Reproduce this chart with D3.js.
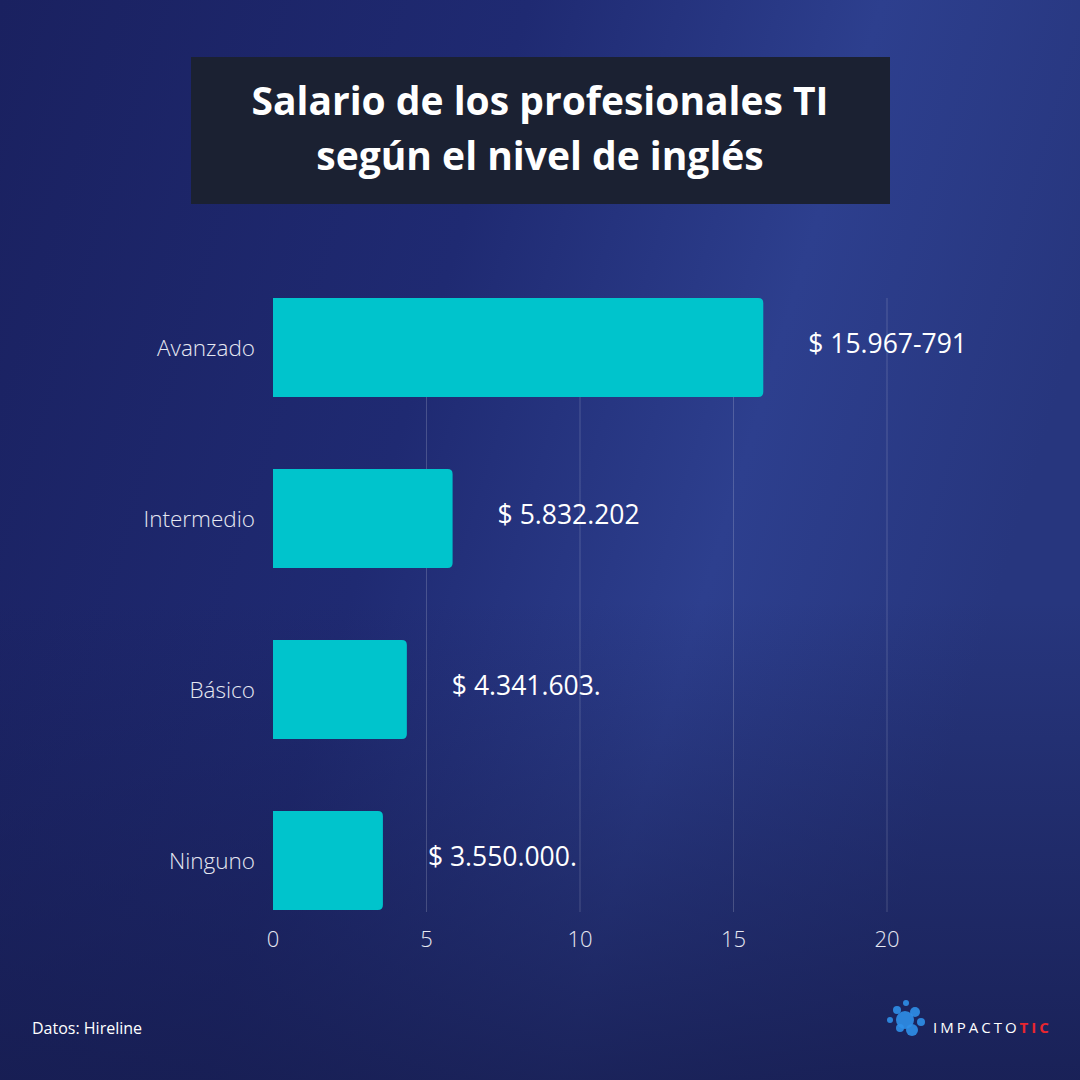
<!DOCTYPE html>
<html><head><meta charset="utf-8">
<script src="https://cdn.jsdelivr.net/npm/d3@7"></script>
<style>body{margin:0;background:#1e2766}</style>
</head><body>
<script>
const categories = ["Avanzado","Intermedio","Básico","Ninguno"];
const values = [15.97, 5.85, 4.36, 3.58];
const valueLabels = ["$ 15.967-791","$ 5.832.202","$ 4.341.603.","$ 3.550.000."];
const ticks = [0,5,10,15,20];

const W=1080,H=1080;
const svg=d3.select("body").append("svg").attr("width",W).attr("height",H)
  .style("font-family","'Open Sans', sans-serif");
const defs=svg.append("defs");
const g1=defs.append("linearGradient").attr("id","bg").attr("x1","0").attr("y1","0").attr("x2","1").attr("y2","0.3");
g1.append("stop").attr("offset","0").attr("stop-color","#1a2160");
g1.append("stop").attr("offset","0.45").attr("stop-color","#1f2a72");
g1.append("stop").attr("offset","0.75").attr("stop-color","#2d3f8e");
g1.append("stop").attr("offset","1").attr("stop-color","#27367e");
svg.append("rect").attr("width",W).attr("height",H).attr("fill","url(#bg)");
const g2=defs.append("linearGradient").attr("id","bot").attr("x1","0").attr("y1","0").attr("x2","0").attr("y2","1");
g2.append("stop").attr("offset","0").attr("stop-color","#161c4e").attr("stop-opacity",0);
g2.append("stop").attr("offset","1").attr("stop-color","#161c4e").attr("stop-opacity",0.8);
svg.append("rect").attr("y",600).attr("width",W).attr("height",480).attr("fill","url(#bot)");

// title
svg.append("rect").attr("x",191).attr("y",57).attr("width",699).attr("height",147).attr("fill","#1b2132");
svg.append("text").attr("x",540).attr("y",115).attr("text-anchor","middle").attr("fill","#fff")
  .attr("font-size",39).attr("font-weight",700).text("Salario de los profesionales TI");
svg.append("text").attr("x",540).attr("y",170).attr("text-anchor","middle").attr("fill","#fff")
  .attr("font-size",39).attr("font-weight",700).text("según el nivel de inglés");

const x=d3.scaleLinear().domain([0,20]).range([273,887]);
const y=d3.scaleBand().domain(categories).range([262,946]).paddingInner(0.42).paddingOuter(0.21);

svg.append("g").selectAll("line").data(ticks.slice(1)).join("line")
  .attr("x1",d=>x(d)).attr("x2",d=>x(d)).attr("y1",298).attr("y2",912)
  .attr("stroke","#ffffff").attr("stroke-opacity",0.18);

const r=5;
svg.append("g").selectAll("path").data(values).join("path")
  .attr("d",(d,i)=>{const x0=x(0),x1=x(d),y0=y(categories[i]),h=y.bandwidth();
    return `M${x0},${y0}H${x1-r}Q${x1},${y0} ${x1},${y0+r}V${y0+h-r}Q${x1},${y0+h} ${x1-r},${y0+h}H${x0}Z`;})
  .attr("fill","#00c4cc");

svg.append("g").selectAll("text").data(categories).join("text")
  .attr("x",255).attr("y",d=>y(d)+y.bandwidth()/2+8).attr("text-anchor","end")
  .attr("fill","#e6e8f2").attr("font-size",22.5).attr("font-weight",300).text(d=>d);

svg.append("g").selectAll("text").data(values).join("text")
  .attr("x",d=>x(d)+45).attr("y",(d,i)=>y(categories[i])+y.bandwidth()/2+5)
  .attr("fill","#fff").attr("font-size",26.5).text((d,i)=>valueLabels[i]);

svg.append("g").selectAll("text").data(ticks).join("text")
  .attr("x",d=>x(d)).attr("y",947).attr("text-anchor","middle")
  .attr("fill","#e6e8f2").attr("font-size",22).attr("font-weight",300).text(d=>d);

svg.append("text").attr("x",32).attr("y",1034).attr("fill","#fff").attr("font-size",16).text("Datos: Hireline");

// logo
const lg=svg.append("g");
const dots=[[905,1020,9],[915,1012,5],[897,1010,4],[912,1030,6],[900,1028,4],[921,1022,4],[890,1020,3],[906,1003,3]];
lg.selectAll("circle").data(dots).join("circle").attr("cx",d=>d[0]).attr("cy",d=>d[1]).attr("r",d=>d[2]).attr("fill","#2f8fe8").attr("opacity",0.9);
const t=lg.append("text").attr("x",933).attr("y",1033).attr("font-size",15).attr("letter-spacing",3).attr("fill","#fff");
t.append("tspan").text("IMPACTO");
t.append("tspan").attr("fill","#e8262f").attr("font-weight",700).text("TIC");
</script>
</body></html>
